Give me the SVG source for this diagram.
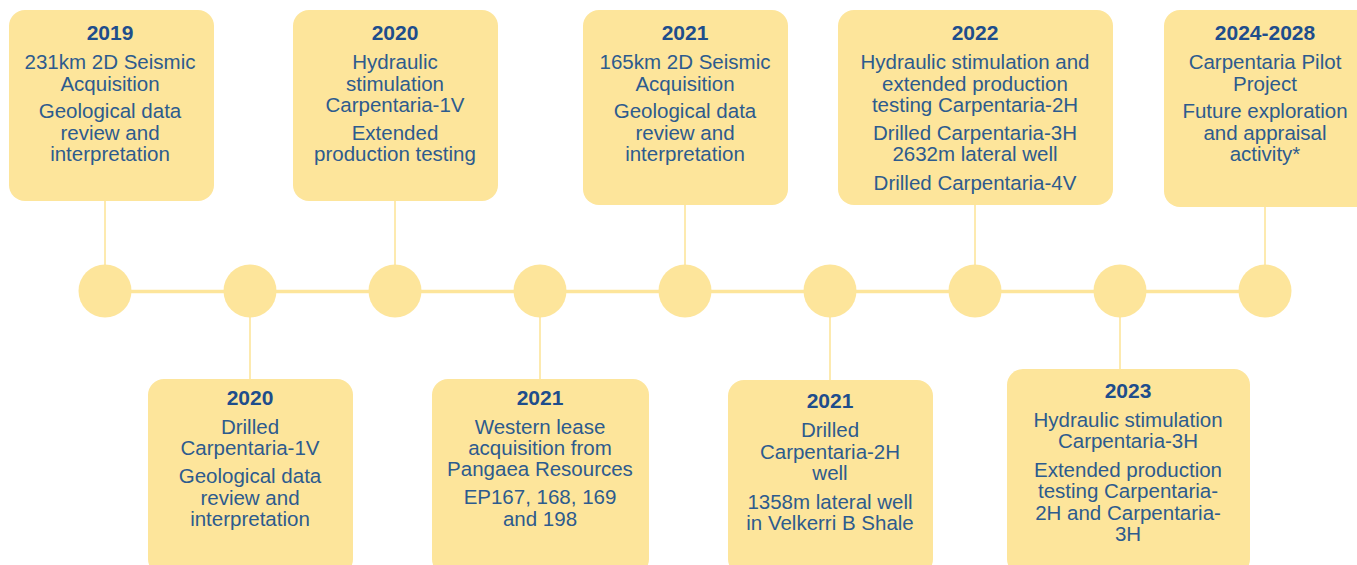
<svg xmlns="http://www.w3.org/2000/svg" width="1357" height="565" viewBox="0 0 1357 565">
<style>
.box{fill:#FDE59B}
.dot{fill:#FDE59B}
.ln{stroke:#FDE59B;fill:none}
text{font-family:"Liberation Sans",Arial,sans-serif;text-anchor:middle}
.t{font-size:21px;font-weight:bold;fill:#1E4D8C}
.b{font-size:20.5px;fill:#2D5B8E}
</style>
<rect width="1357" height="565" fill="#FFFFFF"/>
<g id="connectors">
<line class="ln" x1="105" y1="291.5" x2="1265" y2="291.5" stroke-width="3.5"/>
<line class="ln" x1="105" y1="200" x2="105" y2="270" stroke-width="1.6"/>
<line class="ln" x1="395" y1="200" x2="395" y2="270" stroke-width="1.6"/>
<line class="ln" x1="685" y1="204" x2="685" y2="270" stroke-width="1.6"/>
<line class="ln" x1="975" y1="204" x2="975" y2="270" stroke-width="1.6"/>
<line class="ln" x1="1265" y1="206" x2="1265" y2="270" stroke-width="1.6"/>
<line class="ln" x1="250" y1="310" x2="250" y2="380" stroke-width="1.6"/>
<line class="ln" x1="540" y1="310" x2="540" y2="380" stroke-width="1.6"/>
<line class="ln" x1="830" y1="310" x2="830" y2="381" stroke-width="1.6"/>
<line class="ln" x1="1120" y1="310" x2="1120" y2="370" stroke-width="1.6"/>
</g>
<g id="circles">
<circle class="dot" cx="105" cy="291" r="26.5"/>
<circle class="dot" cx="250" cy="291" r="26.5"/>
<circle class="dot" cx="395" cy="291" r="26.5"/>
<circle class="dot" cx="540" cy="291" r="26.5"/>
<circle class="dot" cx="685" cy="291" r="26.5"/>
<circle class="dot" cx="830" cy="291" r="26.5"/>
<circle class="dot" cx="975" cy="291" r="26.5"/>
<circle class="dot" cx="1120" cy="291" r="26.5"/>
<circle class="dot" cx="1265" cy="291" r="26.5"/>
</g>
<g id="node-2019">
<rect class="box" x="9" y="10" width="205" height="191" rx="16"/>
<text class="t" x="110" y="40">2019</text>
<text class="b" x="110" y="69">231km 2D Seismic</text>
<text class="b" x="110" y="91">Acquisition</text>
<text class="b" x="110" y="118">Geological data</text>
<text class="b" x="110" y="140">review and</text>
<text class="b" x="110" y="161">interpretation</text>
</g>
<g id="node-2020-top">
<rect class="box" x="293" y="10" width="205" height="191" rx="16"/>
<text class="t" x="395" y="40">2020</text>
<text class="b" x="395" y="69">Hydraulic</text>
<text class="b" x="395" y="91">stimulation</text>
<text class="b" x="395" y="112">Carpentaria-1V</text>
<text class="b" x="395" y="140">Extended</text>
<text class="b" x="395" y="161">production testing</text>
</g>
<g id="node-2021-top">
<rect class="box" x="583" y="10" width="205" height="195" rx="16"/>
<text class="t" x="685" y="40">2021</text>
<text class="b" x="685" y="69">165km 2D Seismic</text>
<text class="b" x="685" y="91">Acquisition</text>
<text class="b" x="685" y="118">Geological data</text>
<text class="b" x="685" y="140">review and</text>
<text class="b" x="685" y="161">interpretation</text>
</g>
<g id="node-2022">
<rect class="box" x="838" y="10" width="275" height="195" rx="16"/>
<text class="t" x="975" y="40">2022</text>
<text class="b" x="975" y="69">Hydraulic stimulation and</text>
<text class="b" x="975" y="91">extended production</text>
<text class="b" x="975" y="112">testing Carpentaria-2H</text>
<text class="b" x="975" y="140">Drilled Carpentaria-3H</text>
<text class="b" x="975" y="161">2632m lateral well</text>
<text class="b" x="975" y="190">Drilled Carpentaria-4V</text>
</g>
<g id="node-2024-2028">
<rect class="box" x="1164" y="10" width="210" height="197" rx="16"/>
<text class="t" x="1265" y="40">2024-2028</text>
<text class="b" x="1265" y="69">Carpentaria Pilot</text>
<text class="b" x="1265" y="91">Project</text>
<text class="b" x="1265" y="118">Future exploration</text>
<text class="b" x="1265" y="140">and appraisal</text>
<text class="b" x="1265" y="161">activity*</text>
</g>
<g id="node-2020-bottom">
<rect class="box" x="148" y="379" width="205" height="196" rx="16"/>
<text class="t" x="250" y="405">2020</text>
<text class="b" x="250" y="434">Drilled</text>
<text class="b" x="250" y="455">Carpentaria-1V</text>
<text class="b" x="250" y="483">Geological data</text>
<text class="b" x="250" y="505">review and</text>
<text class="b" x="250" y="526">interpretation</text>
</g>
<g id="node-2021-western">
<rect class="box" x="432" y="379" width="217" height="196" rx="16"/>
<text class="t" x="540" y="405">2021</text>
<text class="b" x="540" y="434">Western lease</text>
<text class="b" x="540" y="455">acquisition from</text>
<text class="b" x="540" y="476">Pangaea Resources</text>
<text class="b" x="540" y="504">EP167, 168, 169</text>
<text class="b" x="540" y="526">and 198</text>
</g>
<g id="node-2021-drilled">
<rect class="box" x="728" y="380" width="205" height="195" rx="16"/>
<text class="t" x="830" y="408">2021</text>
<text class="b" x="830" y="437">Drilled</text>
<text class="b" x="830" y="459">Carpentaria-2H</text>
<text class="b" x="830" y="480">well</text>
<text class="b" x="830" y="509">1358m lateral well</text>
<text class="b" x="830" y="530">in Velkerri B Shale</text>
</g>
<g id="node-2023">
<rect class="box" x="1007" y="369" width="243" height="206" rx="16"/>
<text class="t" x="1128" y="398">2023</text>
<text class="b" x="1128" y="427">Hydraulic stimulation</text>
<text class="b" x="1128" y="448">Carpentaria-3H</text>
<text class="b" x="1128" y="477">Extended production</text>
<text class="b" x="1128" y="498">testing Carpentaria-</text>
<text class="b" x="1128" y="520">2H and Carpentaria-</text>
<text class="b" x="1128" y="541">3H</text>
</g>
</svg>
